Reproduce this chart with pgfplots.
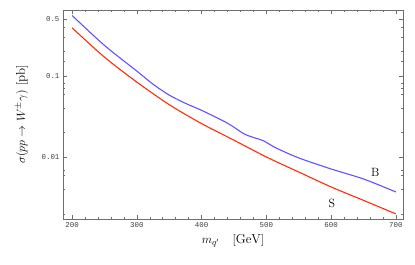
\documentclass[border=0pt]{standalone}
\usepackage{fontspec}
\usepackage{pgfplots}
\pgfplotsset{compat=1.18}
\newfontfamily\cour{Liberation Mono}
\definecolor{bcol}{RGB}{100,80,255}
\definecolor{rcol}{RGB}{255,45,10}
\definecolor{fcol}{RGB}{110,110,110}
\begin{document}
\begin{tikzpicture}
\begin{axis}[
  scale only axis,
  width=340bp, height=209bp,
  ymode=log,
  xmin=186, xmax=711,
  ymin=0.00174, ymax=0.645,
  axis line style={fcol, line width=0.8pt},
  tick style={fcol, line width=0.5pt},
  tick align=inside,
  major tick length=4bp,
  minor tick length=2.5bp,
  xtick={200,300,400,500,600,700},
  minor xtick={220,240,260,280,320,340,360,380,420,440,460,480,520,540,560,580,620,640,660,680},
  ytick={0.01,0.1,0.5},
  yticklabels={0.01,0.1,0.5},
  minor ytick={0.002,0.004,0.006,0.007,0.02,0.04,0.06,0.07,0.08,0.15,0.2,0.3,0.4},
  xticklabels={200,300,400,500,600,700},
  /pgf/number format/assume math mode=true,
  tick label style={font=\cour\fontsize{7.5}{8}\selectfont, text=black!75},
  xlabel={$m_{q'}\quad[\mathrm{GeV}]$},
  ylabel={$\sigma(pp\rightarrow W^{\pm}\gamma)\ [\mathrm{pb}]$},
  label style={font=\fontsize{13}{15}\selectfont},
  xlabel style={at={(axis description cs:0.5,-0.105)}, anchor=center},
  ylabel style={at={(axis description cs:-0.121,0.5)}, anchor=center},
  clip=true,
]
\addplot[rcol, line width=1.1pt, smooth] coordinates {
(200,0.390) (250,0.170) (300,0.0839) (350,0.0443) (400,0.0259)
(450,0.0162) (500,0.01007) (550,0.00658) (600,0.00431) (650,0.00295) (700,0.00201)
};
\addplot[bcol, line width=1.1pt, smooth] coordinates {
(200,0.553) (250,0.237) (300,0.1145) (325,0.079) (350,0.058) (375,0.046) (400,0.0377)
(440,0.0262) (465,0.0195) (480,0.0175) (495,0.0160) (515,0.0130)
(550,0.00981) (600,0.00717) (650,0.0054) (700,0.00374)
};
\node[font=\fontsize{12}{14}\selectfont] at (axis cs:668,0.00645) {B};
\node[font=\fontsize{12}{14}\selectfont] at (axis cs:601,0.00274) {S};
\end{axis}
\path ([shift={(-63bp,-46bp)}]current axis.south west) rectangle ([shift={(12bp,10bp)}]current axis.north east);
\end{tikzpicture}
\end{document}
